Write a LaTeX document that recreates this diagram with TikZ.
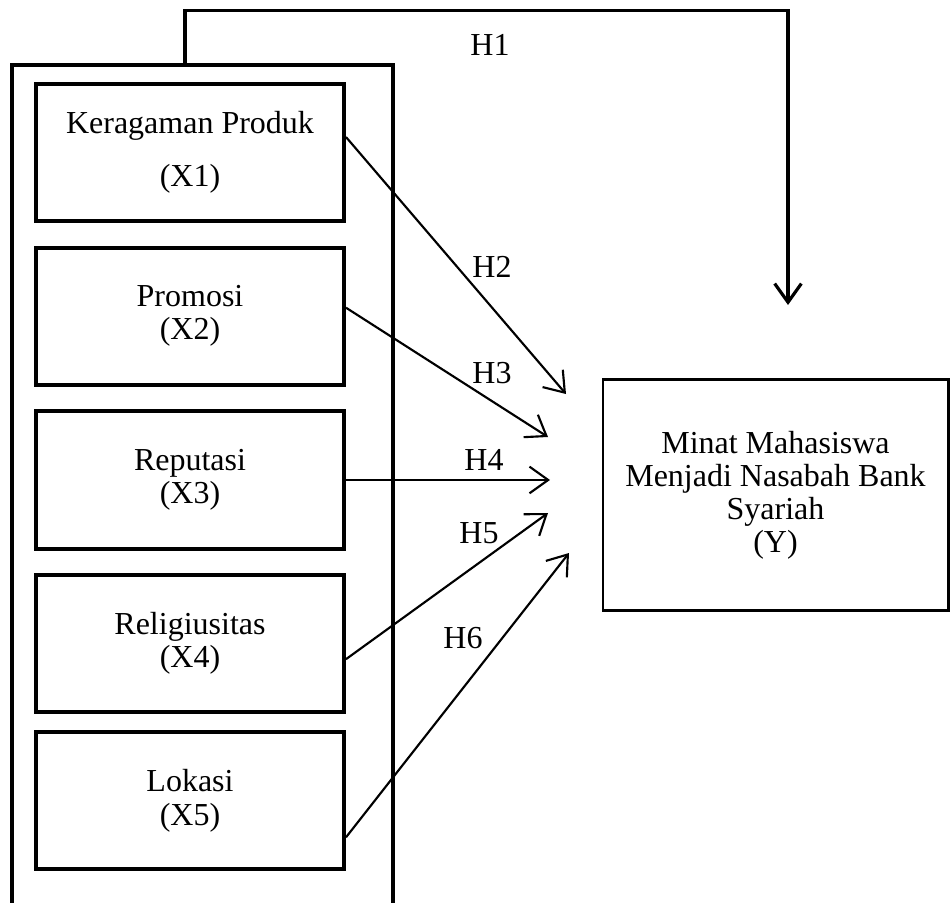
\documentclass[tikz,border=0pt]{standalone}
\usepackage{fontspec}
\setmainfont{Liberation Serif}
\usetikzlibrary{arrows.meta, positioning}
\tikzstyle{variabel}=[rectangle, draw, line width=1.5pt, minimum width=115.5pt, minimum height=51.4pt, align=center, font=\fontsize{12}{12.4}\selectfont]
\tikzstyle{terikat}=[rectangle, draw, line width=1.1pt, minimum width=129.4pt, minimum height=86.3pt, align=center, font=\fontsize{12}{12.4}\selectfont]
\tikzstyle{kelompok}=[rectangle, draw, line width=1.2pt, minimum width=142.9pt, minimum height=320.6pt]
\tikzstyle{jalur}=[-{Straight Barb[length=7pt,width=10pt]}, line width=0.8pt]
\tikzstyle{hipotesis}=[font=\fontsize{12}{12.4}\selectfont]
\begin{document}
\begin{tikzpicture}[x=0.375pt, y=-0.375pt, node distance=8.5pt]
				\useasboundingbox (0,0) rectangle (950,903);
				\node[kelompok] (grup) at (202.5,492.5) {};
				\node[variabel] (x1) at (190,152.5) {Keragaman Produk\\[7.5pt](X1)};
				\node[variabel] (x2) [below=of x1] {Promosi\\(X2)};
				\node[variabel] (x3) [below=of x2] {Reputasi\\(X3)};
				\node[variabel] (x4) [below=of x3] {Religiusitas\\(X4)};
				\node[variabel] (x5) [below=6pt of x4] {Lokasi\\(X5)};
				\node[terikat] (y) at (775.5,495) {Minat Mahasiswa\\Menjadi Nasabah Bank\\Syariah\\(Y)};

				\coordinate (u1) at (788,305);
				\coordinate (u2) at (566,394);
				\coordinate (u3) at (548,437);
				\path (x3.east) ++(204,0) coordinate (u4);
				\coordinate (u5) at (548,513);
				\coordinate (u6) at (569,553);

				\draw[jalur, line width=1.2pt] ([xshift=-6.6pt]grup.north) -- ++(0,-53) -| (u1);
				\draw[jalur] ([yshift=5.8pt]x1.east) -- (u2);
				\draw[jalur] ([yshift=3.2pt]x2.east) -- (u3);
				\draw[jalur] (x3.east) -- (u4);
				\draw[jalur] ([yshift=-5.8pt]x4.east) -- (u5);
				\draw[jalur] ([yshift=-13.7pt]x5.east) -- (u6);

				\node[hipotesis] (h1) at (490,45) {H1};
				\node[hipotesis] (h2) at (492,267) {H2};
				\node[hipotesis] (h3) at (492,373) {H3};
				\node[hipotesis] (h4) at (484,460) {H4};
				\node[hipotesis] (h5) at (479,533) {H5};
				\node[hipotesis] (h6) at (463,638) {H6};
			\end{tikzpicture}
\end{document}
